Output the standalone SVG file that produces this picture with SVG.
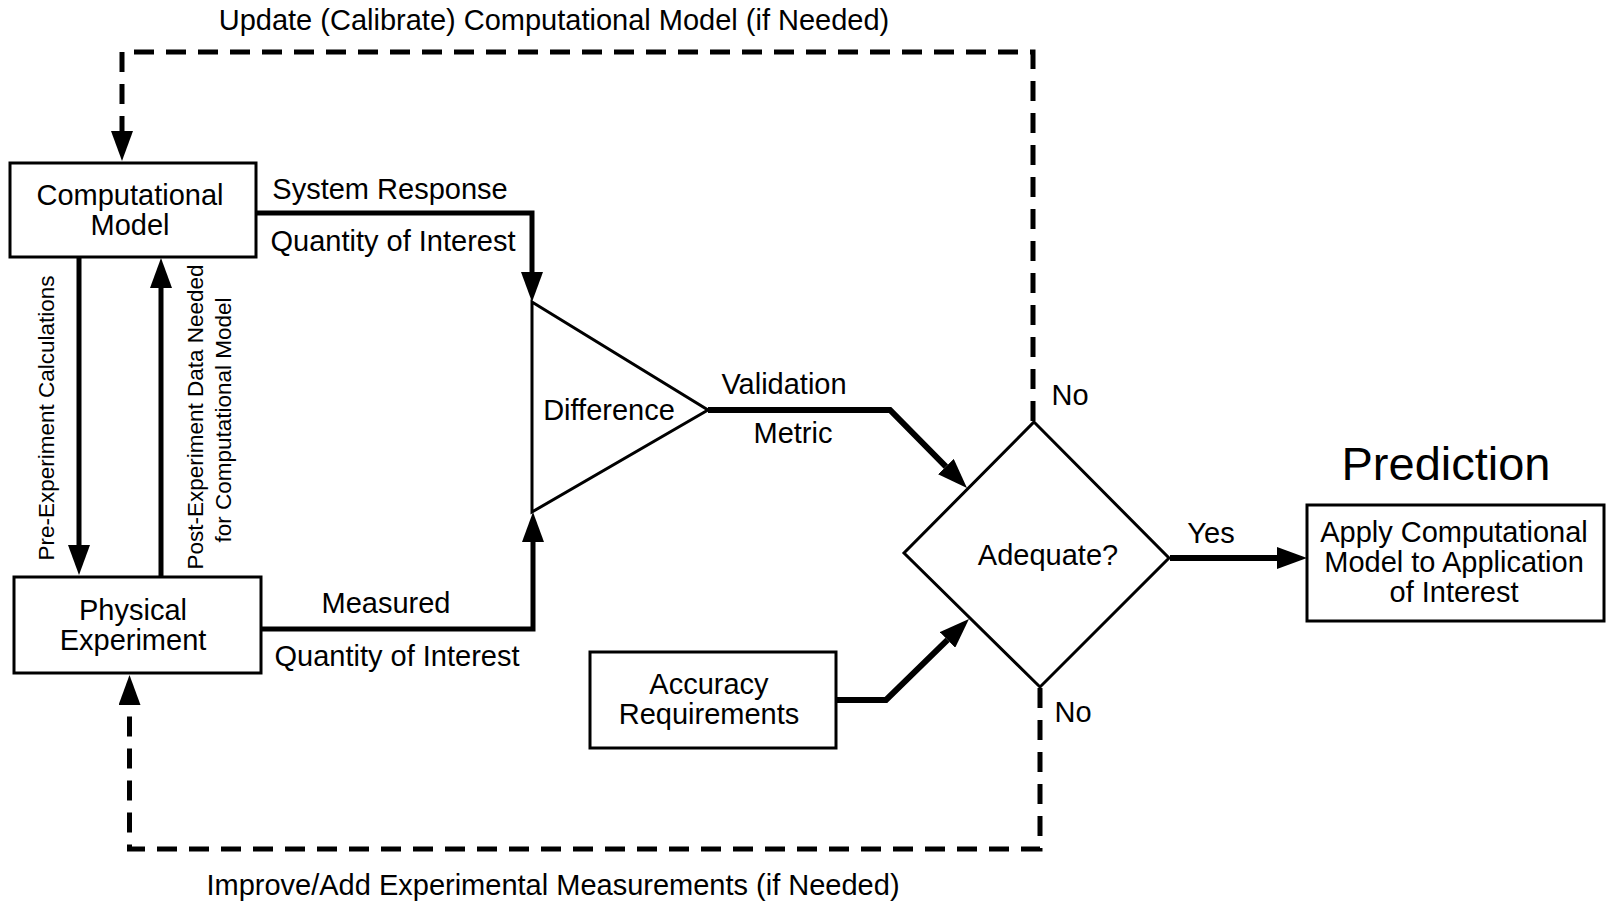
<svg xmlns="http://www.w3.org/2000/svg" width="1606" height="901" viewBox="0 0 1606 901">
<style>
text{font-family:"Liberation Sans",Arial,Helvetica,sans-serif;fill:#000;text-anchor:middle}
.t{font-size:29px}
.r{font-size:22.5px}
.big{font-size:47px}
.box{fill:#fff;stroke:#000;stroke-width:3}
.ln{fill:none;stroke:#000;stroke-width:5;stroke-linejoin:miter}
.ln6{fill:none;stroke:#000;stroke-width:6;stroke-linejoin:miter}
.dash{fill:none;stroke:#000;stroke-width:5;stroke-dasharray:20 12}
</style>
<defs>
<marker id="ah" markerUnits="userSpaceOnUse" markerWidth="30" markerHeight="22" viewBox="0 0 30 22" refX="0" refY="11" orient="auto">
<path d="M0,0 L30,11 L0,22 Z" fill="#000"/>
</marker>
</defs>
<rect x="0" y="0" width="1606" height="901" fill="#fff"/>
<g id="connectors">
<path class="ln" d="M256,213 H532 V272" marker-end="url(#ah)"/>
<path class="ln" d="M261,629 H533 V542" marker-end="url(#ah)"/>
<path class="ln" d="M79,257 V545" marker-end="url(#ah)"/>
<path class="ln" d="M161,577 V288" marker-end="url(#ah)"/>
<path class="ln6" d="M708,410 H890 L945.9,466.6" marker-end="url(#ah)"/>
<path class="ln6" d="M836,700 H886 L947.5,639.9" marker-end="url(#ah)"/>
<path class="ln6" d="M1170,558 H1277" marker-end="url(#ah)"/>
<path class="dash" d="M1033,421 V52 H122 V131" marker-end="url(#ah)"/>
<path class="dash" d="M1040,688 V849 H129.5 V705" marker-end="url(#ah)"/>
<text class="t" x="554" y="30">Update (Calibrate) Computational Model (if Needed)</text>
<text class="t" x="553" y="895">Improve/Add Experimental Measurements (if Needed)</text>
<text class="t" x="390" y="199">System Response</text>
<text class="t" x="393" y="251">Quantity of Interest</text>
<text class="t" x="386" y="613">Measured</text>
<text class="t" x="397" y="666">Quantity of Interest</text>
<text class="t" x="784" y="394">Validation</text>
<text class="t" x="793" y="443">Metric</text>
<text class="t" x="1070" y="405">No</text>
<text class="t" x="1073" y="722">No</text>
<text class="t" x="1211" y="543">Yes</text>
<text class="r" transform="translate(54,418) rotate(-90)">Pre-Experiment Calculations</text>
<text class="r" transform="translate(203,417) rotate(-90)">Post-Experiment Data Needed</text>
<text class="r" transform="translate(231,420) rotate(-90)">for Computational Model</text>
</g>
<g id="computational-model">
<rect class="box" x="10" y="163" width="246" height="94"/>
<text class="t" x="130" y="205">Computational</text>
<text class="t" x="130" y="235">Model</text>
</g>
<g id="physical-experiment">
<rect class="box" x="14" y="577" width="247" height="96"/>
<text class="t" x="133" y="620">Physical</text>
<text class="t" x="133" y="650">Experiment</text>
</g>
<g id="difference">
<polygon class="box" points="532,302 708,410 532,512"/>
<text class="t" x="609" y="420">Difference</text>
</g>
<g id="adequate">
<polygon class="box" points="1034,422 1169,558 1040,687 904,553"/>
<text class="t" x="1048" y="565">Adequate?</text>
</g>
<g id="accuracy-requirements">
<rect class="box" x="590" y="652" width="246" height="96"/>
<text class="t" x="709" y="694">Accuracy</text>
<text class="t" x="709" y="724">Requirements</text>
</g>
<g id="prediction">
<text class="big" x="1446" y="480">Prediction</text>
<rect class="box" x="1307" y="505" width="297" height="116"/>
<text class="t" x="1454" y="542">Apply Computational</text>
<text class="t" x="1454" y="572">Model to Application</text>
<text class="t" x="1454" y="602">of Interest</text>
</g>
</svg>
